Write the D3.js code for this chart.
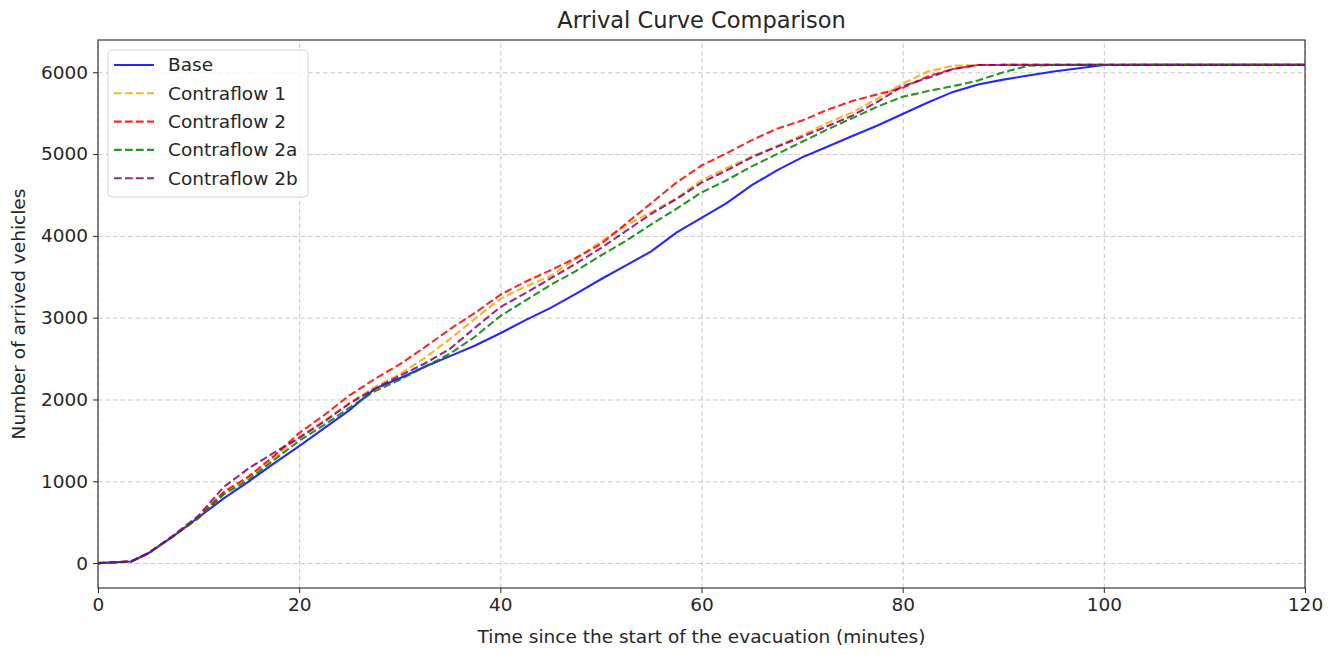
<!DOCTYPE html>
<html>
<head>
<meta charset="utf-8">
<script src="https://cdn.jsdelivr.net/npm/d3@7"></script>
<style>
  body { margin: 0; background: #fff; }
  text { font-family: "DejaVu Sans", sans-serif; fill: #262626; }
  .eje line { stroke: #262626; }
  .grid line { stroke: #b0b0b0; stroke-dasharray: 4.5,3; stroke-opacity: 0.7; }
  .grid path { display: none; }
</style>
</head>
<body>
<div id="graf"></div>
<script>
// I. Datos
minutos = [0, 3.3, 5, 7.5, 10, 12.5, 15, 17.5, 20, 22.5, 25, 27.5, 30, 32.5, 35, 37.5, 40, 42.5, 45, 47.5,
           50, 52.5, 55, 57.5, 60, 62.5, 65, 67.5, 70, 72.5, 75, 77.5, 80, 82.5, 85, 87.5, 90, 92.5, 95, 97.5,
           100, 105, 110, 115, 120]

base = [0, 20, 120, 330, 560, 790, 1000, 1220, 1430, 1650, 1870, 2130, 2260, 2400, 2530, 2660, 2810, 2970, 3120, 3290,
        3470, 3640, 3810, 4040, 4220, 4400, 4620, 4800, 4960, 5090, 5220, 5350, 5490, 5630, 5760, 5850, 5910, 5960, 6010, 6050,
        6088, 6090, 6090, 6090, 6090]

contraflow1 = [0, 20, 120, 330, 560, 860, 1050, 1290, 1540, 1740, 1960, 2150, 2310, 2510, 2740, 2990, 3230, 3380, 3510, 3720,
               3930, 4130, 4290, 4460, 4680, 4830, 4970, 5100, 5230, 5380, 5510, 5680, 5860, 6010, 6080, 6088, 6090, 6090, 6090, 6090,
               6090, 6090, 6090, 6090, 6090]

contraflow2 = [0, 20, 120, 330, 560, 870, 1060, 1310, 1590, 1810, 2050, 2250, 2430, 2640, 2860, 3060, 3280, 3440, 3580, 3730,
               3900, 4150, 4400, 4650, 4860, 5010, 5170, 5310, 5410, 5540, 5650, 5730, 5810, 5950, 6040, 6088, 6090, 6090, 6090, 6090,
               6090, 6090, 6090, 6090, 6090]

contraflow2a = [0, 20, 120, 330, 550, 840, 1020, 1260, 1495, 1690, 1900, 2100, 2240, 2400, 2560, 2770, 3020, 3210, 3400, 3570,
                3760, 3940, 4140, 4330, 4530, 4680, 4850, 5000, 5150, 5300, 5440, 5580, 5700, 5770, 5830, 5900, 6000, 6080, 6088, 6090,
                6090, 6090, 6090, 6090, 6090]

contraflow2b = [0, 20, 120, 340, 580, 930, 1160, 1350, 1530, 1730, 1950, 2130, 2290, 2440, 2620, 2880, 3130, 3300, 3480, 3660,
                3850, 4060, 4270, 4450, 4650, 4800, 4960, 5090, 5210, 5340, 5470, 5640, 5830, 5930, 6040, 6088, 6090, 6090, 6090, 6090,
                6090, 6090, 6090, 6090, 6090]

series = [
  { nombre: 'Base',           valores: base,         color: 'blue',   dash: null },
  { nombre: 'Contraflow 1',   valores: contraflow1,  color: 'orange', dash: '7.7,3.3' },
  { nombre: 'Contraflow 2',   valores: contraflow2,  color: 'red',    dash: '7.7,3.3' },
  { nombre: 'Contraflow 2a',  valores: contraflow2a, color: 'green',  dash: '7.7,3.3' },
  { nombre: 'Contraflow 2b',  valores: contraflow2b, color: 'purple', dash: '7.7,3.3' }
]

xTicks = [0, 20, 40, 60, 80, 100, 120]
yTicks = [0, 1000, 2000, 3000, 4000, 5000, 6000]

// II. Configuración
ancho_total = 1333
alto_total = 655
margins = { top: 40, left: 98, right: 28, bottom: 67 }
ancho = ancho_total - margins.left - margins.right
alto = alto_total - margins.top - margins.bottom
fuente = '18.5px'

svg = d3.select('#graf').append('svg')
        .attr('width', ancho_total)
        .attr('height', alto_total)

g = svg.append('g')
       .attr('transform', `translate(${ margins.left }, ${ margins.top })`)

x = d3.scaleLinear().domain([0, 120]).range([0, ancho])
y = d3.scaleLinear().domain([-304.5, 6394.5]).range([alto, 0])

// grid
g.append('g').attr('class', 'grid')
  .attr('transform', `translate(0, ${ alto })`)
  .call(d3.axisBottom(x).tickValues(xTicks).tickSize(-alto).tickFormat(''))
g.append('g').attr('class', 'grid')
  .call(d3.axisLeft(y).tickValues(yTicks).tickSize(-ancho).tickFormat(''))

// III. Líneas
linea = d3.line()
          .x((d, i) => x(minutos[i]))
          .y(d => y(d))

series.forEach(s => {
  g.append('path')
   .datum(s.valores)
   .attr('d', linea)
   .attr('fill', 'none')
   .attr('stroke', s.color)
   .attr('stroke-opacity', 0.85)
   .attr('stroke-width', 2.1)
   .attr('stroke-dasharray', s.dash)
})

// marco
g.append('rect')
 .attr('width', ancho).attr('height', alto)
 .attr('fill', 'none').attr('stroke', '#262626').attr('stroke-width', 1.1)

// ejes
xAxisGroup = g.append('g').attr('class', 'eje')
  .attr('transform', `translate(0, ${ alto })`)
  .call(d3.axisBottom(x).tickValues(xTicks).tickSize(5).tickPadding(5))
yAxisGroup = g.append('g').attr('class', 'eje')
  .call(d3.axisLeft(y).tickValues(yTicks).tickFormat(d3.format('d')).tickSize(5).tickPadding(5))

svg.selectAll('.eje text').style('font-size', fuente).style('font-family', '"DejaVu Sans", sans-serif').attr('fill', '#262626')
svg.selectAll('.eje .domain').remove()

// titulos
svg.append('text')
   .attr('x', margins.left + ancho / 2).attr('y', 28)
   .attr('text-anchor', 'middle').style('font-size', '22.5px')
   .text('Arrival Curve Comparison')

svg.append('text')
   .attr('x', margins.left + ancho / 2).attr('y', 643)
   .attr('text-anchor', 'middle').style('font-size', fuente)
   .text('Time since the start of the evacuation (minutes)')

svg.append('text')
   .attr('transform', `translate(25, ${ margins.top + alto / 2 }) rotate(-90)`)
   .attr('text-anchor', 'middle').style('font-size', fuente)
   .text('Number of arrived vehicles')

// leyenda
leyenda = svg.append('g').attr('transform', 'translate(108, 50)')
leyenda.append('rect')
  .attr('width', 200).attr('height', 147).attr('rx', 4)
  .attr('fill', '#fff').attr('fill-opacity', 0.8)
  .attr('stroke', '#d6d6d6').attr('stroke-width', 1)

series.forEach((s, i) => {
  fila = leyenda.append('g').attr('transform', `translate(0, ${ 15 + i * 28.3 })`)
  fila.append('line')
      .attr('x1', 6).attr('x2', 46)
      .attr('stroke', s.color).attr('stroke-opacity', 0.85)
      .attr('stroke-width', 2.1).attr('stroke-dasharray', s.dash)
  fila.append('text')
      .attr('x', 60).attr('dy', '0.35em')
      .style('font-size', fuente)
      .text(s.nombre)
})
</script>
</body>
</html>
